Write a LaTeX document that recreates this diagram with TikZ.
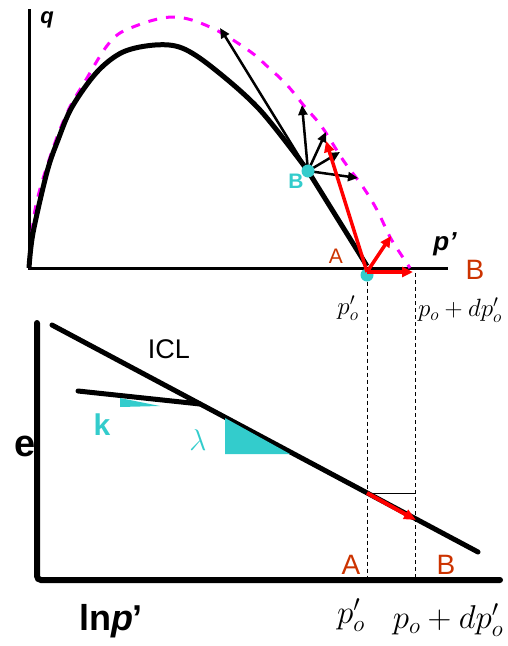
\RequirePackage{fix-cm}
\documentclass[tikz,border=0pt]{standalone}
\usepackage{fontspec}
\setmainfont{Liberation Sans}
\usetikzlibrary{arrows.meta}
\definecolor{cy}{HTML}{33CCCC}
\definecolor{mag}{HTML}{FF00FF}
\definecolor{lbl}{HTML}{CC3300}
\newcommand{\fs}[1]{\fontsize{#1}{#1}\selectfont}
\begin{document}
\begin{tikzpicture}[x=1pt,y=-1pt,
  axis/.style={line width=3pt},
  curve/.style={line width=5pt,line join=round},
  envel/.style={mag,line width=3pt,dash pattern=on 9pt off 9pt},
  blkarr/.style={line width=2.5pt,-{Triangle[length=10pt,width=9pt]}},
  redarr/.style={red,line width=3.5pt,-{Triangle[length=11pt,width=10pt]}},
  guide/.style={line width=0.8pt,dash pattern=on 4pt off 3pt},
  lab/.style={inner sep=0pt,anchor=center},
  dot/.style={circle,fill=cy,inner sep=0pt,minimum size=13pt}]
\useasboundingbox (0,0) rectangle (507,646);

% ---------- upper plot: q - p' ----------
\coordinate (O1) at (29,268);
\coordinate (qtop) at (29,9);
\coordinate (pend) at (448,268);
\draw[axis] (qtop) -- (O1) -- (pend);
\node[lab,font=\fs{22}\bfseries\itshape] (qlab) at (47,20) {q};
\node[lab,font=\fs{26}\bfseries\itshape] (plab) at (445,244) {p’};

% magenta dashed envelope
\draw[envel] plot[smooth,tension=0.6] coordinates {(29,268) (35,210) (50,157) (67,113) (84,83) (110,42) (133,27) (173,17) (210,27) (248,50) (268,67) (287,85) (305,107) (322,127) (343,160) (363,187) (377,210) (390,237) (400,253) (410,268)};

% black stress path
\coordinate (Bc) at (308,171);
\coordinate (Ac) at (367,266);
\draw[curve] plot[smooth,tension=0.55] coordinates {(29,268) (33,233) (47,172) (58,140) (72,107) (97,72) (123,52) (155,45) (182,48) (213,68) (260,110) (308,171)} -- (Ac);

% fan of arrows at B
\coordinate (f1) at (220,28);
\coordinate (f2) at (302,105);
\coordinate (f3) at (326,132);
\coordinate (f4) at (340,152);
\coordinate (f5) at (358,178);
\foreach \t in {f1,f2,f3,f4,f5} \draw[blkarr] (Bc) -- (\t);
\node[dot] (B) at (Bc) {};

% red arrows at A
\node[dot] (A) at (367,275) {};
\coordinate (Ao) at (367,272);
\coordinate (r1) at (326,141);
\coordinate (r2) at (391,236);
\coordinate (r3) at (413,272);
\draw[redarr] (Ao) -- (r1);
\draw[redarr] (Ao) -- (r2);
\draw[redarr] (Ao) -- (r3);

\node[lab,font=\fs{21}\bfseries,text=cy] (Blab) at (296,181) {B};
\node[lab,font=\fs{21},text=lbl] (Alab) at (336,256) {A};
\node[lab,font=\fs{28},text=lbl] (Brt) at (475,270) {B};

\node[lab,font=\fs{25}] (po1) at (348,308) {$p'_o$};
\node[lab,font=\fs{25}] (pd1) at (460,310) {$p_o+dp'_o$};

% ---------- lower plot: e - ln p' ----------
\node[lab,font=\fs{38}\bfseries] (elab) at (25,446) {e};
\draw[line width=6pt,line cap=round,rounded corners=4pt] (37,323) -- (37,580) -- (500,580);

\coordinate (icl1) at (52,325);
\coordinate (icl2) at (478,552);
\draw[curve,line cap=round] (icl1) -- (icl2);
\coordinate (url1) at (78,391);
\coordinate (url2) at (200,404);
\draw[curve,line cap=round] (url1) -- (url2);
\node[lab,font=\fs{27}] (icl) at (169,349) {ICL};

\fill[cy] (120,398) -- (160,406) -- (120,407) -- cycle;
\fill[cy] (225,418) -- (290,454) -- (225,454) -- cycle;
\node[lab,font=\fs{30}\bfseries,text=cy] (klab) at (102,425) {k};
\node[lab,font=\fs{30},text=cy] (llab) at (198,440) {$\lambda$};

% dashed guides
\coordinate (gA) at (367,578);
\coordinate (gB) at (415,578);
\coordinate (gBt) at (415,273);
\draw[guide] (A.south) -- (gA);
\draw[guide] (gBt) -- (gB);

\coordinate (eA) at (367,493);
\coordinate (eh) at (415,493);
\coordinate (eB) at (416,520);
\draw[line width=1pt] (eA) -- (eh);
\draw[red,line width=4pt,-{Triangle[length=12pt,width=10pt]}] (eA) -- (eB);

\node[lab,font=\fs{28},text=lbl] (A2) at (351,565) {A};
\node[lab,font=\fs{28},text=lbl] (B2) at (446,565) {B};
\node[lab,font=\fs{33}] (po2) at (351,615) {$p'_o$};
\node[lab,font=\fs{33}] (pd2) at (448,620) {$p_o+dp'_o$};
\node[lab,font=\fs{36}\bfseries] (lnp) at (111,621) {ln\textit{p}’};
\end{tikzpicture}
\end{document}
